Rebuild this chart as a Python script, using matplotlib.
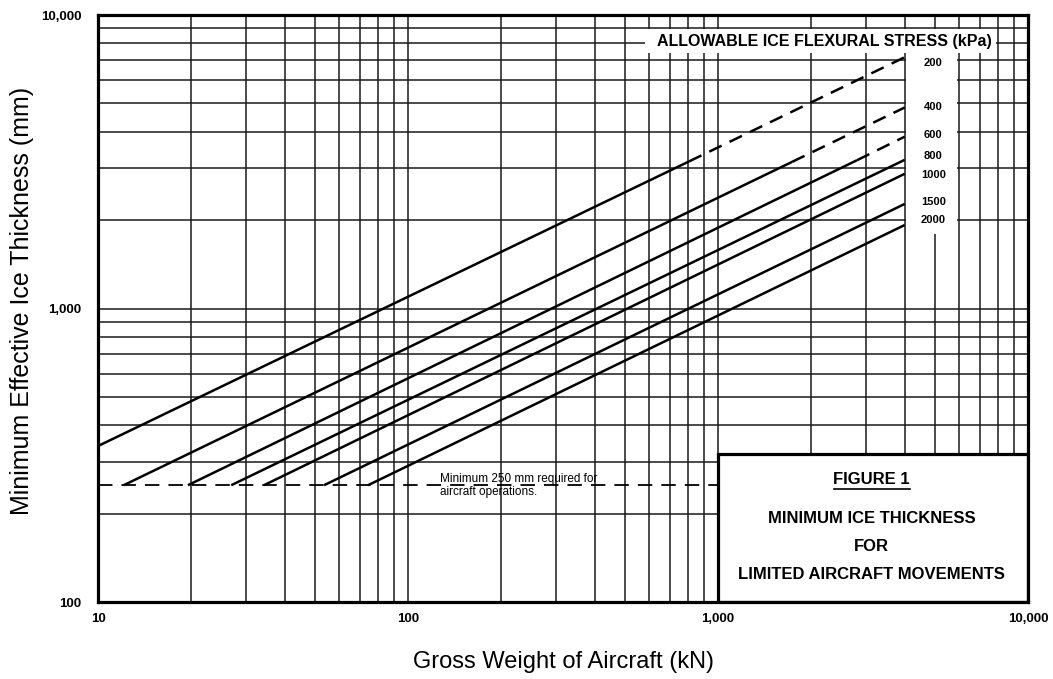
import numpy as np
import matplotlib.pyplot as plt
from matplotlib.patches import Rectangle
from matplotlib.ticker import NullFormatter, LogLocator

plt.rcParams['font.family'] = ['Liberation Sans', 'DejaVu Sans']

# allowable ice flexural stress (kPa) and the end points
stress = [200, 400, 600, 800, 1000, 1500, 2000]
w_start = [10, 12.1, 19.5, 26.9, 34.3, 53.6, 74.3]
h_start = [340, 250, 250, 250, 250, 250, 250]
w_solid_end = [806, 1734, 2806, 4000, 4000, 4000, 4000]
h_solid_end = [3170, 3160, 3200, 3210, 2877, 2271, 1925]
w_end = [4000, 4000, 4000, 4000, 4000, 4000, 4000]
h_end = [7180, 4840, 3850, 3210, 2877, 2271, 1925]

# minimum thickness floor
min_w = [10, 10000]
min_h = [250, 250]

x_ticks = [10, 100, 1000, 10000]
x_ticklabels = ['10', '100', '1,000', '10,000']
y_ticks = [100, 1000, 10000]
y_ticklabels = ['100', '1,000', '10,000']

fig = plt.figure(figsize=(10.53, 6.79), dpi=100)
ax = fig.add_axes([0.0931, 0.1134, 0.8832, 0.8645])
ax.set_xscale('log')
ax.set_yscale('log')
ax.set_xlim(10, 10000)
ax.set_ylim(100, 10000)

ax.xaxis.set_minor_locator(LogLocator(base=10, subs=np.arange(2, 10)))
ax.yaxis.set_minor_locator(LogLocator(base=10, subs=np.arange(2, 10)))
ax.xaxis.set_minor_formatter(NullFormatter())
ax.yaxis.set_minor_formatter(NullFormatter())
ax.grid(which='both', color='#1a1a1a', lw=1.1)
ax.set_axisbelow(True)

ax.set_xticks(x_ticks)
ax.set_xticklabels(x_ticklabels, fontsize=9.5, fontweight='bold')
ax.set_yticks(y_ticks)
ax.set_yticklabels(y_ticklabels, fontsize=9.5, fontweight='bold')
ax.tick_params(which='both', length=0)
ax.tick_params(axis='x', pad=8)
ax.tick_params(axis='y', pad=12)
for s in ax.spines.values():
    s.set_linewidth(2.3)
    s.set_zorder(10)

# 250 mm floor
ax.plot(min_w, min_h, color='black', lw=1.3, dashes=(8, 5), zorder=3)
ax.text(127, 262, 'Minimum 250 mm required for', fontsize=8.5, va='center', zorder=4)
ax.text(127, 237, 'aircraft operations.', fontsize=8.5, va='center', zorder=4)

# stress lines
for i in range(len(stress)):
    ax.plot([w_start[i], w_solid_end[i]], [h_start[i], h_solid_end[i]],
            color='black', lw=1.8, solid_capstyle='butt', zorder=5)
    if w_end[i] > w_solid_end[i]:
        ax.plot([w_solid_end[i], w_end[i]], [h_solid_end[i], h_end[i]],
                color='black', lw=1.8, dashes=(5.5, 3.5), zorder=5)

# white panels for the stress labels
ax.add_patch(Rectangle((4050, 1800), 5900 - 4050, 7400 - 1800, facecolor='white',
                       edgecolor='none', zorder=4))
ax.add_patch(Rectangle((580, 7400), 7900 - 580, 8950 - 7400, facecolor='white',
                       edgecolor='none', zorder=4))
ax.text(2210, 8150, 'ALLOWABLE ICE FLEXURAL STRESS (kPa)', fontsize=11.5,
        fontweight='bold', ha='center', va='center', zorder=6)
label_h = [6860, 4850, 3890, 3300, 2850, 2300, 2000]
for i in range(len(stress)):
    ax.text(4950, label_h[i], str(stress[i]), fontsize=8, fontweight='bold',
            ha='center', va='center', zorder=6)

# figure title box
cx = 0.832
ax.add_patch(Rectangle((1000, 100), 9000, 320 - 100, facecolor='white',
                       edgecolor='black', lw=2.3, zorder=7))
ax.text(cx, 0.208, 'FIGURE 1', transform=ax.transAxes, fontsize=12,
        fontweight='bold', ha='center', va='center', zorder=8)
ax.plot([cx - 0.041, cx + 0.041], [0.192, 0.192], transform=ax.transAxes,
        color='black', lw=1.2, zorder=8)
ax.text(cx, 0.143, 'MINIMUM ICE THICKNESS', transform=ax.transAxes, fontsize=12,
        fontweight='bold', ha='center', va='center', zorder=8)
ax.text(cx, 0.0937, 'FOR', transform=ax.transAxes, fontsize=12,
        fontweight='bold', ha='center', va='center', zorder=8)
ax.text(cx, 0.046, 'LIMITED AIRCRAFT MOVEMENTS', transform=ax.transAxes, fontsize=12,
        fontweight='bold', ha='center', va='center', zorder=8)

fig.text(0.5347, 0.025, 'Gross Weight of Aircraft (kN)', fontsize=17,
         ha='center', va='center')
fig.text(0.021, 0.557, 'Minimum Effective Ice Thickness (mm)', fontsize=18,
         ha='center', va='center', rotation=90)

fig.savefig('out.png', dpi=100, facecolor='white')
